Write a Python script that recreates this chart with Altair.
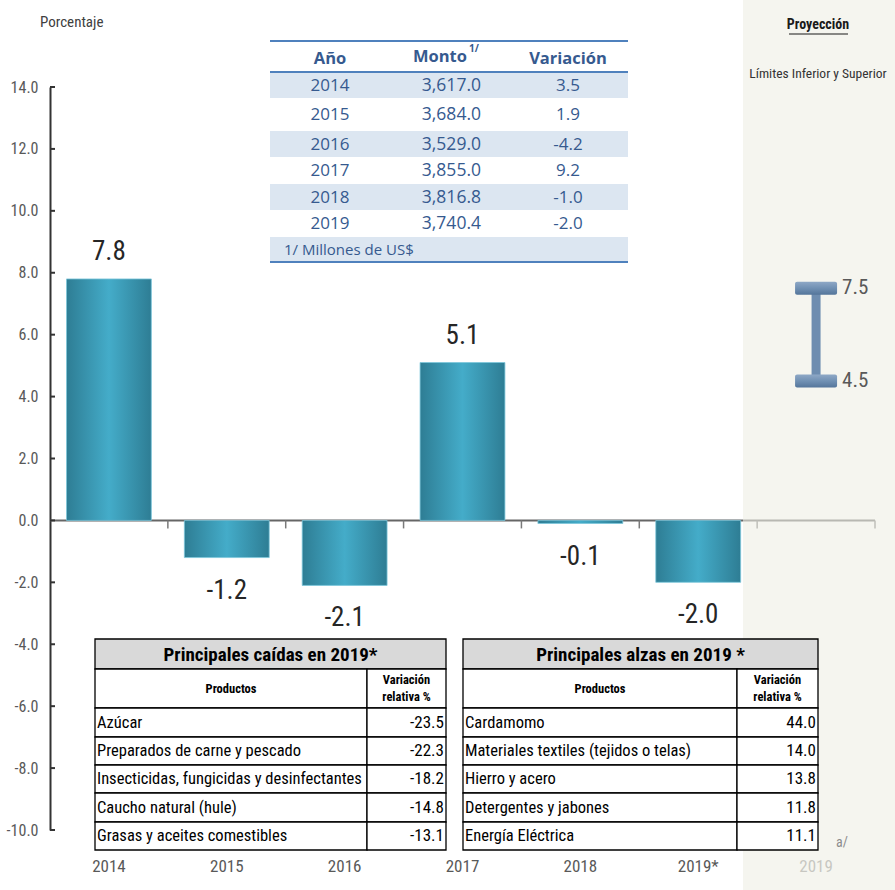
import altair as alt
import pandas as pd

# ---------------- data ----------------
years = ["2014", "2015", "2016", "2017", "2018", "2019*", "2019"]
bar_years = ["2014", "2015", "2016", "2017", "2018", "2019*"]
bar_values = [7.8, -1.2, -2.1, 5.1, -0.1, -2.0]
proj_year = "2019"
proj_low = 4.5
proj_high = 7.5
y_ticks = [-10, -8, -6, -4, -2, 0, 2, 4, 6, 8, 10, 12, 14]

tbl_years = ["2014", "2015", "2016", "2017", "2018", "2019"]
tbl_monto = ["3,617.0", "3,684.0", "3,529.0", "3,855.0", "3,816.8", "3,740.4"]
tbl_var = ["3.5", "1.9", "-4.2", "9.2", "-1.0", "-2.0"]
tbl_note = "1/ Millones de US$"

caidas_title = "Principales caídas en 2019*"
caidas_prod = ["Azúcar", "Preparados de carne y pescado",
               "Insecticidas, fungicidas y desinfectantes",
               "Caucho natural (hule)", "Grasas y aceites comestibles"]
caidas_val = [-23.5, -22.3, -18.2, -14.8, -13.1]

alzas_title = "Principales alzas en 2019 *"
alzas_prod = ["Cardamomo", "Materiales textiles (tejidos o telas)",
              "Hierro y acero", "Detergentes y jabones", "Energía Eléctrica"]
alzas_val = [44.0, 14.0, 13.8, 11.8, 11.1]

# ---------------- layout ----------------
W, H = 895, 890
PX0, PX1 = 50, 875          # band range of categories
PY_TOP, PY_BOT = 87, 830    # pixel of 14 and -10
NARROW = "Roboto Condensed, Roboto, sans-serif"
WIDE = "Open Sans, sans-serif"
GREY = "#595959"
TBLUE = "#365a8f"
HYPHEN = "replace(format(datum.value, '.1f'), '\u2212', '-')"

xs = alt.Scale(domain=years, range=[PX0, PX1], paddingInner=0, paddingOuter=0)
ys = alt.Scale(domain=[-10, 14], range=[PY_BOT, PY_TOP], nice=False, zero=False)
pxs = alt.Scale(domain=[0, W], range=[0, W], nice=False, zero=False)
pys = alt.Scale(domain=[0, H], range=[0, H], nice=False, zero=False)
zero_px = PY_BOT - (0 - (-10)) * (PY_BOT - PY_TOP) / 24


def px_text(df, **kw):
    return alt.Chart(df).mark_text(**kw).encode(
        x=alt.X("x:Q", scale=pxs, axis=None),
        y=alt.Y("y:Q", scale=pys, axis=None),
        text="t:N",
    )


def px_rect(df, **kw):
    return alt.Chart(df).mark_rect(**kw).encode(
        x=alt.X("x:Q", scale=pxs, axis=None), x2="x2:Q",
        y=alt.Y("y:Q", scale=pys, axis=None), y2="y2:Q",
    )


def px_rule(df, **kw):
    return alt.Chart(df).mark_rule(**kw).encode(
        x=alt.X("x:Q", scale=pxs, axis=None), x2="x2:Q",
        y=alt.Y("y:Q", scale=pys, axis=None), y2="y2:Q",
    )


# ---------------- shaded projection area ----------------
shade = px_rect(pd.DataFrame({"x": [743], "x2": [W], "y": [0], "y2": [H]}),
                color="#EEEEE4", opacity=0.6)

# ---------------- top table ----------------
TT_X0, TT_X1 = 270, 628
TT_TOP, TT_HDR = 41, 72
tt_tops = [73, 99, 131, 158, 184, 211, 237, 262]
tt_centers = [(tt_tops[i] + tt_tops[i + 1]) / 2 for i in range(7)]
shaded_idx = [0, 2, 4, 6]
tt_shade = px_rect(pd.DataFrame({
    "x": [TT_X0] * 4, "x2": [TT_X1] * 4,
    "y": [tt_tops[i] for i in shaded_idx],
    "y2": [tt_tops[i + 1] - 1 for i in shaded_idx]}), color="#DCE6F1")
tt_lines = px_rule(pd.DataFrame({
    "x": [TT_X0] * 3, "x2": [TT_X1] * 3,
    "y": [TT_TOP, TT_HDR, tt_tops[-1]], "y2": [TT_TOP, TT_HDR, tt_tops[-1]]}),
    color="#4F81BD", strokeWidth=2.2)
tt_head = px_text(pd.DataFrame({"x": [330, 440, 568], "y": [59, 57, 59],
                                "t": ["Año", "Monto", "Variación"]}),
                  font=WIDE, fontSize=16.5, fontWeight="bold", color=TBLUE)
tt_sup = px_text(pd.DataFrame({"x": [469], "y": [49], "t": ["1/"]}),
                 font=WIDE, fontSize=10, fontWeight="bold", color=TBLUE, align="left")
tt_year = px_text(pd.DataFrame({"x": [330] * 6, "y": tt_centers[:6], "t": tbl_years}),
                  font=WIDE, fontSize=17, color=TBLUE)
tt_monto = px_text(pd.DataFrame({"x": [481] * 6, "y": tt_centers[:6], "t": tbl_monto}),
                   font=WIDE, fontSize=17.5, color=TBLUE, align="right")
tt_var = px_text(pd.DataFrame({"x": [568] * 6, "y": tt_centers[:6], "t": tbl_var}),
                 font=WIDE, fontSize=17, color=TBLUE)
tt_note = px_text(pd.DataFrame({"x": [284], "y": [tt_centers[6]], "t": [tbl_note]}),
                  font=WIDE, fontSize=15, color=TBLUE, align="left")

# ---------------- axes decorations ----------------
zero_line = alt.Chart(pd.DataFrame({"v": [0]})).mark_rule(
    color="#666666", strokeWidth=2).encode(
    x=alt.value(PX0), x2=alt.value(PX1),
    y=alt.Y("v:Q", scale=ys, axis=None))
band_ticks = alt.Chart(pd.DataFrame({"year": years, "v": [0] * len(years)})).mark_rule(
    color="#7a7a7a", strokeWidth=1.5).encode(
    x=alt.X("year:N", scale=xs, axis=None, bandPosition=1),
    y=alt.Y("v:Q", scale=ys, axis=None),
    y2=alt.value(zero_px + 8))
y_tick_marks = alt.Chart(pd.DataFrame({"v": y_ticks})).mark_rule(
    color="#333333", strokeWidth=2).encode(
    x=alt.value(PX0), x2=alt.value(PX0 + 5),
    y=alt.Y("v:Q", scale=ys, axis=None))

# ---------------- bars ----------------
bar_grad = alt.LinearGradient(
    gradient="linear", x1=0, x2=1, y1=0, y2=0,
    stops=[alt.GradientStop(offset=0, color="#2E7D94"),
           alt.GradientStop(offset=0.5, color="#44ACC9"),
           alt.GradientStop(offset=1, color="#2E7D94")])
bars_df = pd.DataFrame({"year": bar_years, "value": bar_values})
bars = alt.Chart(bars_df).mark_bar(
    width=alt.RelativeBandSize(0.72), color=bar_grad,
    stroke="#7cc6da", strokeWidth=0.8).encode(
    x=alt.X("year:N", scale=xs, title=None,
            axis=alt.Axis(orient="bottom", offset=-38, domain=False, ticks=False,
                          labelAngle=0, labelPadding=6, labelFont=NARROW,
                          labelFontSize=17,
                          labelColor={"condition": {"test": "datum.value === '2019'",
                                                    "value": "#8c8c8c"},
                                      "value": GREY})),
    y=alt.Y("value:Q", scale=ys, title=None,
            axis=alt.Axis(values=y_ticks, format=".1f", offset=-PX0, ticks=False,
                          grid=False, domainColor="#333333", domainWidth=2,
                          labelPadding=12, labelFont=NARROW, labelFontSize=16,
                          labelColor=GREY,
                          labelExpr="replace(datum.label, '\u2212', '-')")),
    y2=alt.datum(0),
)
lab_pos = alt.Chart(bars_df).transform_filter("datum.value >= 0").transform_calculate(
    lbl=HYPHEN).mark_text(
    dy=-27, font=NARROW, fontSize=27, color="#262626").encode(
    x=alt.X("year:N", scale=xs, axis=None),
    y=alt.Y("value:Q", scale=ys, axis=None),
    text="lbl:N")
lab_neg = alt.Chart(bars_df).transform_filter("datum.value < 0").transform_calculate(
    lbl=HYPHEN).mark_text(
    dy=33, font=NARROW, fontSize=27, color="#262626").encode(
    x=alt.X("year:N", scale=xs, axis=None),
    y=alt.Y("value:Q", scale=ys, axis=None),
    text="lbl:N")

# ---------------- projection range ----------------
proj_df = pd.DataFrame({"year": [proj_year], "low": [proj_low], "high": [proj_high]})
caps_df = pd.DataFrame({"year": [proj_year] * 2, "v": [proj_low, proj_high]})
stem = alt.Chart(proj_df).mark_rule(strokeWidth=9, color="#6E8DB0").encode(
    x=alt.X("year:N", scale=xs, axis=None),
    y=alt.Y("low:Q", scale=ys, axis=None), y2="high:Q")
cap_grad = alt.LinearGradient(
    gradient="linear", x1=0, x2=0, y1=0, y2=1,
    stops=[alt.GradientStop(offset=0, color="#8EA8C6"),
           alt.GradientStop(offset=0.5, color="#7090B3"),
           alt.GradientStop(offset=1, color="#54759A")])
caps = alt.Chart(caps_df).mark_tick(orient="horizontal", size=42, thickness=13,
                                    color=cap_grad, cornerRadius=2, opacity=1).encode(
    x=alt.X("year:N", scale=xs, axis=None),
    y=alt.Y("v:Q", scale=ys, axis=None))
cap_labels = alt.Chart(caps_df).mark_text(
    align="left", dx=26, font=NARROW, fontSize=21, color=GREY).encode(
    x=alt.X("year:N", scale=xs, axis=None),
    y=alt.Y("v:Q", scale=ys, axis=None),
    text=alt.Text("v:Q", format=".1f"))

# ---------------- annotations ----------------
porc = px_text(pd.DataFrame({"x": [40], "y": [22], "t": ["Porcentaje"]}),
               font=NARROW, fontSize=15, color="#404040", align="left")
proy = px_text(pd.DataFrame({"x": [818], "y": [25], "t": ["Proyección"]}),
               font=NARROW, fontSize=14, fontWeight="bold", color="#1a1a1a")
proy_ul = px_rule(pd.DataFrame({"x": [789], "x2": [848], "y": [34], "y2": [34]}),
                  color="#1a1a1a", strokeWidth=1.2)
limites = px_text(pd.DataFrame({"x": [818], "y": [74], "t": ["Límites Inferior y Superior"]}),
                  font=NARROW, fontSize=13.5, color="#333333")
a_note = px_text(pd.DataFrame({"x": [836], "y": [843], "t": ["a/"]}),
                 font=NARROW, fontSize=14, color="#8c8c8c", align="left")

# ---------------- bottom tables ----------------
bt_tops = [639, 669, 708, 737, 765, 793, 822, 850]


def bottom_table(x0, xd, x1, title, prods, vals, hdr2):
    cells = [dict(x=x0, x2=x1, y=bt_tops[0], y2=bt_tops[1], f="#D9D9D9"),
             dict(x=x0, x2=xd, y=bt_tops[1], y2=bt_tops[2], f="#FFFFFF"),
             dict(x=xd, x2=x1, y=bt_tops[1], y2=bt_tops[2], f="#FFFFFF")]
    for i in range(len(prods)):
        cells.append(dict(x=x0, x2=xd, y=bt_tops[2 + i], y2=bt_tops[3 + i], f="#FFFFFF"))
        cells.append(dict(x=xd, x2=x1, y=bt_tops[2 + i], y2=bt_tops[3 + i], f="#FFFFFF"))
    cdf = pd.DataFrame(cells)
    rect = alt.Chart(cdf).mark_rect(stroke="#000000", strokeWidth=1.3).encode(
        x=alt.X("x:Q", scale=pxs, axis=None), x2="x2:Q",
        y=alt.Y("y:Q", scale=pys, axis=None), y2="y2:Q",
        fill=alt.Fill("f:N", scale=None))
    centers = [(bt_tops[2 + i] + bt_tops[3 + i]) / 2 for i in range(len(prods))]
    t_title = px_text(pd.DataFrame({"x": [(x0 + x1) / 2], "y": [(bt_tops[0] + bt_tops[1]) / 2 + 1],
                                    "t": [title]}),
                      font=NARROW, fontSize=19, fontWeight="bold", color="#000000")
    t_h1 = px_text(pd.DataFrame({"x": [(x0 + xd) / 2], "y": [(bt_tops[1] + bt_tops[2]) / 2],
                                 "t": ["Productos"]}),
                   font=NARROW, fontSize=12.5, fontWeight="bold", color="#000000")
    t_h2 = px_text(pd.DataFrame({"x": [(xd + x1) / 2] * 2, "y": [680, 697],
                                 "t": ["Variación", hdr2]}),
                   font=NARROW, fontSize=12.5, fontWeight="bold", color="#000000")
    t_p = px_text(pd.DataFrame({"x": [x0 + 2] * len(prods), "y": centers, "t": prods}),
                  font=NARROW, fontSize=16.5, color="#000000", align="left")
    t_v = px_text(pd.DataFrame({"x": [x1 - 2] * len(vals), "y": centers,
                                "t": [f"{v:.1f}" for v in vals]}),
                  font=NARROW, fontSize=17, color="#000000", align="right")
    return [rect, t_title, t_h1, t_h2, t_p, t_v]


left_tbl = bottom_table(95, 367, 446, caidas_title, caidas_prod, caidas_val, "relativa %")
right_tbl = bottom_table(463, 737, 818, alzas_title, alzas_prod, alzas_val, "relativa  %")

layers = [tt_shade, tt_lines, tt_head, tt_sup, tt_year, tt_monto, tt_var, tt_note,
          zero_line, band_ticks, bars, y_tick_marks, lab_pos, lab_neg, shade,
          *left_tbl, *right_tbl,
          stem, caps, cap_labels, porc, proy, proy_ul, limites, a_note]

chart = alt.layer(*layers).resolve_scale(x="independent", y="independent").properties(
    width=W, height=H, autosize=alt.AutoSizeParams(type="none"), padding=0,
    background="#FFFFFF",
).configure_view(stroke=None)

chart.save("out.html", embed_options={"renderer": "svg", "actions": False})
